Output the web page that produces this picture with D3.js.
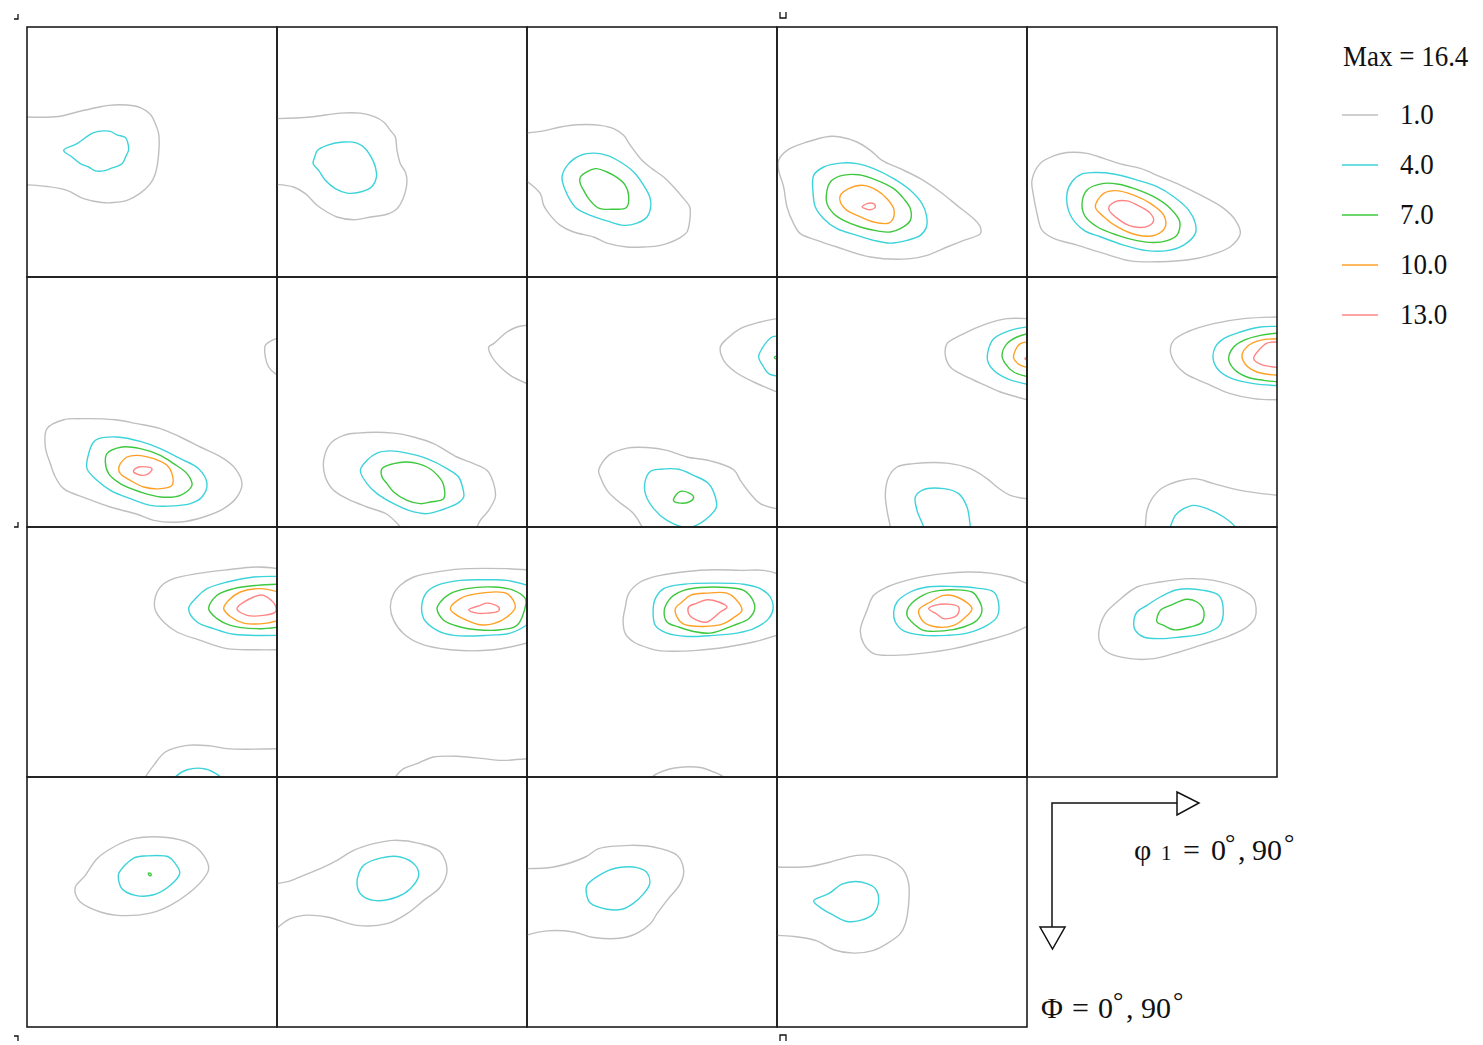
<!DOCTYPE html>
<html>
<head>
<meta charset="utf-8">
<script src="https://cdn.jsdelivr.net/npm/d3@7"></script>
<style>
  body { margin: 0; background: #fff; }
  svg { display: block; }
  text { font-family: "Liberation Serif", "Times New Roman", serif; fill: #111; }
</style>
</head>
<body>
<svg id="chart" width="1483" height="1045"></svg>
<script>
// ODF constant-phi2 sections; contour levels and peak density
const levels = [1.0, 4.0, 7.0, 10.0, 13.0];
const maxDensity = 16.4;
const phi2Sections = [0, 5, 10, 15, 20, 25, 30, 35, 40, 45, 50, 55, 60, 65, 70, 75, 80, 85, 90];

// Each ring: [level index, closed (1) or cut by the section edge (0), [phi1, Phi, phi1, Phi, ...]] in degrees
const sec00 = [
  [0, 0, [-0.5,32.4, 11.4,32.2, 18,30.6, 25.2,29, 29.4,28.2, 36,28.1, 40.8,29, 44.4,31.4, 46.2,34.8, 47.4,38.4, 47.4,45.6, 46.2,52.8, 44.4,56.4, 40.8,59.8, 36,62.4, 31.2,63.2, 27,63.2, 20.4,61.8, 14.4,58.8, 7.2,57.4, -0.5,56.8]],
  [1, 1, [13.2,44.4, 18,42, 22.2,39, 24,38, 27.6,37.4, 30,37.6, 32.4,38.8, 35.4,39.8, 36.2,41.4, 36.6,44.2, 35.4,47, 34.2,49.2, 30,51, 27.6,51.8, 24.6,51.8, 22.2,50.4, 19.2,49.2, 16.2,46.8]]
];
const sec05 = [
  [0, 0, [-0.5,33, 12,32.4, 22.8,31, 30,31, 34.8,32.2, 38.4,34.2, 40.8,37.2, 42.6,39.6, 43.2,44.4, 44.4,49.2, 46.2,52.2, 46.8,55.2, 45.6,61.2, 43.2,65.4, 39.6,67.4, 33.6,68.4, 27.6,69.4, 21.6,68.4, 18,66.6, 14.4,64.2, 10.2,60, 6,57.6, -0.5,56.6]],
  [1, 1, [14.4,44.6, 18,42.6, 24,41.4, 28.8,41.8, 31.8,43.8, 34.2,47.4, 35.4,50.4, 35.8,54, 34.2,57.4, 30,59.4, 25.2,59.8, 21,58.2, 17.4,55.2, 15,51.6, 13,49.2, 13.8,46.2]]
];
const sec10 = [
  [0, 0, [-0.5,38.2, 6,37.4, 12,36, 18,35.2, 26.4,35.4, 31.2,36.6, 34.8,39, 37.2,42.6, 41.4,48, 45,51, 49.2,54, 52.8,57.6, 56.4,61.8, 58.6,64.8, 58.6,69.6, 57.6,73.8, 55.2,75.8, 48,78.6, 42,79.2, 36,79.2, 28.8,77.8, 24,75.6, 16.8,73.8, 12,71.4, 8.4,67.8, 6,64.2, 4.8,60, -0.5,55.2]],
  [1, 1, [12.6,54, 15,49.2, 19.2,46.2, 24,45.4, 28.8,46.2, 33.6,48.6, 38.4,52.2, 42,57, 44.2,61.2, 44.6,64.2, 43.2,68.4, 39.6,70.6, 34.8,71.4, 28.8,69.8, 22.8,67.8, 18,65.4, 15.6,62.4, 13.8,58.8]],
  [2, 1, [19.2,54, 24.6,51, 28.8,52.2, 33,54.6, 35.4,57, 36.6,60.6, 35.8,65, 31.2,65.6, 25.8,65.2, 22.2,61.8, 20.4,58.8, 19.2,56.4]]
];
const sec15 = [
  [0, 1, [0.6,48, 3.6,44.4, 10.8,41.4, 18.6,39.4, 22.8,39.6, 28.8,41.4, 33.6,44.4, 37.8,48, 44.4,51, 51.6,54.6, 58.8,59.4, 64.8,64.2, 71.4,69.6, 73.2,72, 73.2,74.4, 67.2,76.8, 61.2,79.2, 54,82.2, 48,83.4, 33.6,82.8, 21.6,79.2, 14.4,76.8, 8.4,74.4, 6,70.8, 3.6,64.8, 2.4,57.6, 0.6,51.6]],
  [1, 1, [13.2,53.4, 16.8,50.4, 22.8,49, 28.8,49.2, 34.8,51, 42,54.6, 48,58.8, 52.2,63.6, 53.8,67.8, 53.8,72, 51.6,75, 46.8,76.8, 40.8,77.8, 34.8,76.8, 28.8,75, 21.6,72.6, 16.8,69, 13.8,64.8, 13,60]],
  [2, 1, [19.2,55.8, 22.8,53.6, 29.4,53.2, 36,55.2, 42,58.2, 45.6,61.8, 48,65.4, 48,69.6, 44.4,72.6, 40.8,73.8, 36,73.4, 30,72, 24,69.6, 20.4,67.2, 18,63.6, 18,58.8]],
  [3, 1, [22.8,60.6, 25.8,58.2, 31.2,57, 36,58.8, 39.6,61.8, 42,65.4, 41.8,69, 40.2,70.6, 34.8,70.2, 28.8,67.8, 25.2,66, 22.8,63]],
  [4, 1, [30.6,64.8, 32.4,63.6, 34.8,63.6, 35.4,64.8, 33.6,65.8, 31.8,65.4]]
];
const sec20 = [
  [0, 1, [1.8,55.1, 4.8,49.1, 9.6,46.4, 14.4,45.2, 21.6,45.5, 27.6,47.3, 33.6,49.3, 40.8,50.9, 48,53.9, 55.2,56.9, 63.6,61.1, 70.8,65.3, 75,69.5, 76.8,74.3, 73.2,79.1, 66,82.1, 57.6,83.9, 48,84.5, 37.2,84.2, 27.6,81.5, 18,78.5, 9.6,76.1, 5.4,73.1, 3.6,67.1, 2.4,61.1]],
  [1, 1, [14.4,59.9, 16.2,55.7, 19.8,52.9, 24,52.4, 31.2,52.9, 39.6,55.1, 46.8,57.5, 52.8,61.1, 58.2,65.9, 60.6,70.7, 60.6,74.3, 56.4,78.5, 50.4,80.5, 43.2,80.5, 34.8,78.5, 26.4,75.5, 20.4,73.1, 15.6,67.7]],
  [2, 1, [19.8,64.1, 21.6,58.7, 27.6,56.3, 33,56.6, 38.4,58.1, 45.6,61.1, 51.6,65.3, 55,70.1, 54,74.9, 50.4,76.9, 45.6,77.6, 39.6,76.9, 32.4,74.9, 25.2,71.9, 21,68.3]],
  [3, 1, [24.6,64.7, 27.6,59.9, 31.8,58.9, 38.4,60.5, 44.4,63.5, 49.2,67.7, 49.8,71.9, 46.2,74.9, 39.6,74.9, 32.4,71.9, 27.6,68.3]],
  [4, 1, [29.4,65.3, 31.8,62.9, 36,62.6, 40.8,64.7, 44.4,67.1, 45.6,69.5, 43.8,71.6, 38.4,71.9, 33.6,69.7]]
];
const sec25 = [
  [0, 0, [90.5,22, 88.2,22.8, 85.8,24.6, 85.8,28.8, 87,32.4, 89.4,34.8, 90.5,35.2]],
  [0, 1, [7.2,54.6, 13.2,51.4, 19.2,51, 31.8,51.4, 39.6,52.8, 48,54.6, 55.2,57.6, 62.4,61.2, 70.8,65.4, 75,69, 77.4,74.4, 75.6,79.2, 70.8,83.4, 63.6,86.4, 55.2,88.2, 45.6,87.6, 39.6,85.4, 30,82.8, 21.6,79.8, 13.2,76.2, 10.2,72, 8.4,67.2, 6.6,61.2]],
  [1, 1, [24,59.4, 25.8,58.2, 32.4,57.6, 40.8,59.2, 48,61.8, 55.2,65.4, 61.8,69, 64.8,74.4, 63,79.2, 58.8,81.6, 52.8,82.4, 44.4,82.2, 37.2,79.8, 30,76.8, 25.2,73.2, 21.6,69, 22.2,63.6]],
  [2, 1, [28.8,63.6, 34.2,61.2, 40.8,61.8, 48,64.2, 52.8,67.2, 57.6,70.8, 59.4,75, 55.2,78.6, 48,79.2, 40.8,77.4, 33.6,74.4, 29.4,70.8, 28.2,66.6]],
  [3, 1, [33.6,67.2, 36,64.8, 39.6,64.2, 45.6,65.4, 50.4,67.8, 52.2,70.8, 52.2,75, 48,76.2, 42,75.6, 37.2,73.2, 33.6,70.8, 33,69]],
  [4, 1, [38.4,69.6, 40.2,68.4, 45,69, 43.8,70.8, 41.4,71.4, 38.4,70.2]]
];
const sec30 = [
  [0, 0, [90.5,17.3, 86.4,18, 82.8,19.8, 78,24, 76.2,25.2, 77.4,28.8, 80.4,32.4, 84,35.4, 90.5,38.6]],
  [0, 0, [46,92, 44.4,90, 39.6,85.4, 32.4,82.8, 25.2,79.8, 20.4,76.8, 17.4,72, 16.8,66, 19.2,60, 24,57, 28.8,56.2, 42,56.2, 49.2,57.6, 56.4,60, 64.8,64.8, 70.8,67.2, 75.6,69.6, 78,74.4, 78.6,79.2, 76.2,84, 73.2,87.6, 72,90, 71.4,92]],
  [1, 1, [32.4,66, 36,63.4, 40.8,62.6, 46.8,63.4, 54,65.4, 61.2,69, 65.4,72, 66.6,75, 67.2,79.2, 64.8,81.6, 58.8,84, 54,85.2, 48,84.2, 42,81.6, 36,78, 32.4,74.4, 30,69.6]],
  [2, 1, [37.8,69, 42,67.2, 46.8,66.6, 54,68.4, 58.8,72.6, 60,75, 60,79.8, 55.2,81, 51.6,81.6, 46.8,80.4, 42,77.4, 39.6,74.4, 37.8,72]]
];
const sec35 = [
  [0, 0, [90.5,14.9, 84,16.2, 76.8,18.6, 72,22.2, 69.6,25.2, 70.8,30, 75,34.2, 81.6,37.8, 90.5,41.6]],
  [1, 0, [90.5,21.3, 88.2,21.6, 84.6,25.8, 83.4,28.8, 85.2,32.4, 87,34.8, 90.5,35.7]],
  [2, 0, [90.5,28.2, 89,29, 90.5,29.9]],
  [0, 0, [42,92, 41.4,90, 38.4,85.2, 32.4,80.4, 28.8,76.8, 26.4,72, 25.8,69.6, 29.4,64.2, 36,61.6, 43.2,61.4, 50.4,62.4, 57.6,64.8, 66,66.2, 74.4,69.4, 76.8,73.2, 80.4,78, 84,81.6, 90.5,83.5]],
  [1, 1, [57.6,90.2, 50.4,87.6, 45.6,83.4, 42.6,78, 42.6,73.2, 44.4,70, 48,69.2, 54.6,69.2, 60,71.4, 65.4,74.4, 67.8,79.2, 68.2,82.8, 65.4,86.4, 60,89.8]],
  [2, 1, [52.8,79.8, 55.2,77.2, 58.8,78, 60,79.2, 58.8,80.8, 55.2,81.4, 52.8,80.6]]
];
const sec40 = [
  [0, 0, [90.5,15, 82.8,15, 75.6,16.8, 66,21, 61.2,24, 60.6,28.2, 62.4,32.4, 66,34.8, 73.2,38.2, 80.4,41.4, 86.4,43.2, 90.5,44.3]],
  [1, 0, [90.5,17.9, 84,19.2, 78,22.2, 76.2,25.8, 75.8,30, 78,33.6, 82.8,36.6, 90.5,38.7]],
  [2, 0, [90.5,20.3, 86.4,21.6, 82.8,24, 81,28.2, 82.2,31.2, 85.2,34.2, 90.5,35.9]],
  [3, 0, [90.5,23.3, 87.6,24, 85.8,26.4, 85.2,29.2, 87,31.4, 90.5,32.7]],
  [4, 0, [90.5,28.6, 89.2,29.4, 90.5,30.2]],
  [0, 0, [41,92, 40.8,90, 39.6,84, 39,78, 40.2,72, 43.2,68.4, 49.2,67.2, 61.2,67, 69.6,69, 75.6,72.6, 79.2,75.6, 84,78.6, 90.5,79.9]],
  [1, 0, [53.2,92, 52.8,90, 50.4,84, 49.8,79.2, 52.2,76.8, 60,76.2, 65.4,78, 68.4,82.8, 69.6,90, 69.8,92]]
];
const sec45 = [
  [0, 0, [90.5,14.4, 78,15, 67.2,16.8, 57.6,19.8, 52.8,22.8, 51.6,26.4, 53.4,31.2, 57,34.8, 64.8,38.4, 73.2,42, 81.6,43.8, 90.5,44.2]],
  [1, 0, [90.5,17.8, 84,18, 76.8,19.8, 70.8,22.2, 67.8,25.2, 67,29.4, 69,33.6, 73.8,36.6, 81.6,38.4, 90.5,39.1]],
  [2, 0, [90.5,20.2, 84,21, 78,22.8, 74.4,25.2, 72.6,29.4, 74.4,33, 79.2,36, 85.2,37.2, 90.5,37.8]],
  [3, 0, [90.5,22.2, 84,22.8, 79.8,24.6, 77.4,28.2, 78.6,31.4, 82.8,34.2, 90.5,35.4]],
  [4, 0, [90.5,23.4, 86.4,23.8, 83.4,26.4, 81.6,29.4, 84,31.4, 90.5,32.6]],
  [0, 0, [42.4,92, 42.6,90, 43.2,84, 45,79.8, 49.2,75.6, 60,72.6, 67.2,74.4, 76.8,76.8, 90.5,78.6]],
  [1, 0, [51,92, 51.6,90, 53.4,85.8, 56.4,83.4, 60,82.2, 64.8,83.4, 70.8,86.4, 75,90, 76,92]]
];
const sec50 = [
  [0, 0, [90.5,15, 82.8,14.4, 72,15.4, 61.2,16.8, 52.8,18.6, 48.6,21, 46.2,25.2, 46.2,30, 49.2,34.2, 54,37.8, 62.4,40.8, 72,43.8, 82.8,44.2, 90.5,44.2]],
  [1, 0, [90.5,17.8, 81.6,18, 72,19.8, 64.8,22.2, 61.2,25.2, 58.2,29.4, 61.2,34.2, 67.2,36.6, 74.4,38.6, 90.5,39]],
  [2, 0, [90.5,20.6, 82.8,21, 74.4,22.2, 68.4,24.6, 65.4,29.4, 68.4,33, 73.2,35.4, 82.8,36.6, 90.5,36]],
  [3, 0, [90.5,23.4, 84,22.2, 76.8,23.4, 72.6,26.4, 70.8,29.4, 73.2,32.2, 78,34.6, 86.4,34.6, 90.5,33.6]],
  [4, 1, [89.4,28.2, 85.2,24.6, 81.6,25.2, 75.6,29.4, 79.2,31.8, 85.2,31.8, 89.4,30.6]],
  [0, 0, [41.6,92, 42.6,90, 45.6,85.8, 49.8,81, 57.6,78.6, 66,78.8, 72,79.8, 90.5,79.8]],
  [1, 0, [52,92, 53.4,90, 57.6,87.4, 64.2,87.1, 69,89.4, 69.6,90, 70.4,92]]
];
const sec55 = [
  [0, 0, [90.5,15.4, 82.8,15, 68.4,15, 60,15.8, 49.2,18, 44.4,21, 42,24, 40.8,28.8, 42,33.6, 45.6,38.4, 51.6,42, 62.4,44.2, 78,44.2, 90.5,41.6]],
  [1, 0, [90.5,21.1, 82.8,19.2, 75.6,19, 66,19.2, 57.6,21, 54,23.4, 52.2,27.6, 52.8,33, 57.6,37.2, 63.6,39, 75.6,39, 84,38.2, 88.8,36, 90.5,34.6]],
  [2, 1, [89.4,25.8, 85.2,22.8, 78,21.6, 68.4,22.2, 62.4,24, 58.8,27, 57.6,29.4, 60,33.6, 66,36, 72,37, 80.4,37, 86.4,35.4, 89.6,27.6]],
  [3, 1, [62.4,29.4, 66,25.8, 72,24, 82.8,24, 85.8,28.8, 82.8,32.4, 78,34.8, 73.2,35.2, 68.4,33.6, 64.8,31.8]],
  [4, 1, [69,29.8, 73.2,28.2, 75.6,27.4, 79.8,28.8, 79.8,30.2, 75.6,31, 72,31]],
  [0, 0, [41.4,92, 42.6,90, 45.6,87, 50.4,85.2, 56.4,82.8, 66,82.6, 74.4,83.4, 80.4,84, 90.5,83.4]]
];
const sec60 = [
  [0, 0, [90.5,16.9, 85.2,15.6, 76.8,15.6, 67.2,15.4, 57.6,16, 48,17.4, 40.8,19.8, 36.6,24, 35.4,28.8, 34.6,33.6, 35.4,38.4, 38.4,41.4, 44.4,43.8, 48,44.6, 61.2,44.4, 72,43.2, 81.6,41.4, 90.5,38.8]],
  [1, 1, [49.2,22.2, 56.4,20.6, 67.2,20.2, 78,20.6, 84,22.2, 87.6,25.2, 88.6,29.4, 87,33, 81.6,36.6, 75.6,38.2, 67.2,39, 57.6,39.4, 50.4,38.2, 46.2,35.4, 45.4,30, 46.2,25.8]],
  [2, 1, [52.8,24.6, 56.4,22.8, 62.4,21.8, 72,21.8, 78,22.8, 81,25.8, 82,29.4, 79.8,33, 74.4,35.4, 66,38.2, 60,37.6, 54.6,36, 50.4,34.2, 49.4,30, 51,26.4]],
  [3, 1, [55.8,27, 58.8,24.6, 64.8,23.8, 72,23.8, 75,25.8, 77.4,30, 74.4,32.6, 70.8,34.8, 63.6,35.8, 56.4,35, 54,32.4, 53.4,29.4]],
  [4, 1, [58.2,28.8, 61.2,27.4, 64.8,26.2, 69,27, 72,28.8, 69.6,30.6, 64.8,34.2, 60,33, 58.2,31.2]],
  [0, 0, [43.5,92, 45,90, 50.4,87.4, 56.4,86.4, 62.4,86.6, 67.2,88.2, 70.8,90, 72.4,92]]
];
const sec65 = [
  [0, 0, [90.5,20.6, 84,18, 76.8,16.6, 68.4,16.2, 60,16.8, 49.2,18.6, 39.6,21.6, 34.8,24.6, 32.4,30, 30,37.2, 31.2,42, 34.8,45.6, 42,46.2, 52.8,45.4, 63.6,43.8, 75.6,40.8, 84,38.4, 90.5,35.6]],
  [1, 1, [43.2,27, 48,23.4, 54,21.6, 63.6,21.4, 72,22, 78,23.4, 79.8,27.6, 79.2,32.4, 75.6,35.4, 68.4,38.2, 61.2,39, 52.8,39, 45.6,37.4, 42.6,34.2, 42,30.6]],
  [2, 1, [47.4,28.8, 52.8,24.4, 58.8,22.8, 70.2,23.4, 72,25.2, 73.8,30, 72,33.6, 67.2,36, 60,37.4, 52.8,37.2, 49.2,34.8, 46.8,31.8]],
  [3, 1, [51,30, 55.2,27, 60,24.6, 64.8,25.2, 70.2,29.4, 67.2,33, 63.6,35.4, 57.6,36, 52.8,34.2]],
  [4, 1, [54.6,29.4, 58.8,27.8, 65.4,28.8, 64.8,31.8, 60,33, 57.6,31.4]]
];
const sec70 = [
  [0, 1, [25.8,38.4, 28.2,31.2, 32.4,27, 39.6,21.6, 48,19.8, 58.8,18.6, 67.2,19.2, 76.8,22.2, 81.6,25.8, 82.2,32.4, 79.2,36, 73.2,39, 62.4,42.6, 52.8,45.6, 45.6,47.4, 37.2,47.4, 28.8,45, 26.4,42]],
  [1, 1, [38.4,34.8, 39.6,30.6, 43.2,28.2, 48,25.2, 54,22.6, 63.6,22.8, 69,24.6, 70.6,28.8, 69.4,35.4, 63.6,38.4, 55.2,39.6, 48,40.2, 42,39.6, 39,37.2]],
  [2, 1, [46.8,34.2, 48,30, 51.6,28.2, 57.6,26, 61.2,27, 63.6,30, 63,34.2, 58.8,36, 52.8,37, 49.2,35.4]]
];
const sec75 = [
  [0, 1, [17.4,39.6, 21,35.4, 25.2,29.4, 31.2,25.2, 38.4,22.2, 50.4,21.8, 58.8,24, 63.6,28.2, 65.4,33, 63.6,36.6, 58.8,41.4, 51.6,46.2, 44.4,49, 32.4,49.8, 26.4,48.6, 19.2,45, 17.4,42]],
  [1, 1, [33,34.8, 38.4,29.2, 43.2,28.4, 51,28.8, 53.4,31.2, 55,34.6, 51.6,39, 45.6,42.4, 39,42.6, 34.2,40.2, 33,37.2]],
  [2, 1, [43.7,34.6, 44.6,34.8, 44.6,35.5, 43.9,35.3]]
];
const sec80 = [
  [0, 0, [-0.5,38.4, 4.8,37.4, 9.6,35.4, 15.6,33, 21.6,30, 27.6,26.4, 34.8,24, 42,22.8, 51.6,24, 58.8,27, 61.2,33.6, 58.8,39.6, 52.8,44.4, 46.8,49.2, 39.6,52.8, 28.8,53.4, 18,50.4, 9.6,49.8, 4.8,51, -0.5,54.8]],
  [1, 1, [29.4,34.8, 31.2,31.8, 37.2,29.2, 44.4,28.8, 49.8,31.8, 51,35.4, 48,40.2, 43.2,43.2, 34.8,44.4, 30,42, 28.8,38.4]]
];
const sec85 = [
  [0, 0, [-0.5,33, 9.6,32.4, 21,28.8, 25.8,25.8, 37.2,24.6, 45.6,25.2, 54,28.2, 56.4,33.6, 55.2,38.4, 50.4,44.4, 46.8,49.2, 44.4,52.8, 36,57.6, 24,57.8, 16.8,55.8, 7.2,55.4, -0.5,57]],
  [1, 1, [21.6,39, 29.4,33.6, 34.8,32.4, 39.6,32.6, 43,34.2, 44.2,38.4, 42,42, 38.4,45.4, 34.2,47.6, 28.8,47.6, 22.8,45.4, 21.4,42]]
];
const sec90 = [
  [0, 0, [-0.5,32.4, 12,32.2, 19.2,30.6, 28.8,28.2, 36,28.4, 42,30.6, 45.6,33.6, 47.4,38.4, 47.4,45.6, 46.2,52.8, 44.4,56.4, 39.6,60, 34.8,62.4, 27.6,63.4, 20.4,62.2, 14.4,59, 6,57.4, -0.5,57]],
  [1, 1, [13.2,44.6, 18.6,42, 23.4,38.6, 28.2,37.6, 32.4,38.4, 35.4,40.2, 36.6,44.4, 34.8,49.2, 30,51.6, 25.2,52, 20.4,49.8, 16.2,47.4]]
];
const sections = [sec00, sec05, sec10, sec15, sec20, sec25, sec30, sec35, sec40, sec45,
                  sec50, sec55, sec60, sec65, sec70, sec75, sec80, sec85, sec90];

// Drawing styles
const levelColors = ["#bfbfbf", "#3dd3da", "#3ec83e", "#ffa126", "#ff8585"];
const panelSize = 250, cols = 5, rows = 4;

const svg = d3.select("#chart");

const colScale = d3.scaleBand().domain(d3.range(cols)).range([27, 27 + cols * panelSize]);
const rowScale = d3.scaleBand().domain(d3.range(rows)).range([27, 27 + rows * panelSize]);
const x = d3.scaleLinear().domain([0, 90]).range([0, panelSize]);
const y = d3.scaleLinear().domain([0, 90]).range([0, panelSize]);

const toPairs = flat => d3.range(0, flat.length, 2).map(i => [flat[i], flat[i + 1]]);
const openLine = d3.line().x(d => x(d[0])).y(d => y(d[1])).curve(d3.curveCatmullRom.alpha(0.5));
const closedLine = d3.line().x(d => x(d[0])).y(d => y(d[1])).curve(d3.curveCatmullRomClosed.alpha(0.5));

const defs = svg.append("defs");
defs.append("clipPath").attr("id", "sectionClip")
  .append("rect").attr("x", 0).attr("y", 0).attr("width", panelSize).attr("height", panelSize);

const panels = svg.selectAll("g.section")
  .data(phi2Sections.map((phi2, i) => ({ phi2, rings: sections[i], i })))
  .join("g")
  .attr("class", "section")
  .attr("transform", d => `translate(${colScale(d.i % cols)},${rowScale(Math.floor(d.i / cols))})`);

panels.append("g").attr("clip-path", "url(#sectionClip)")
  .selectAll("path")
  .data(d => d.rings)
  .join("path")
  .attr("d", r => (r[1] ? closedLine : openLine)(toPairs(r[2])))
  .attr("fill", "none")
  .attr("stroke", r => levelColors[r[0]])
  .attr("stroke-width", 1.4)
  .attr("stroke-linejoin", "round");

panels.append("rect")
  .attr("width", panelSize).attr("height", panelSize)
  .attr("fill", "none").attr("stroke", "#1c1c1c").attr("stroke-width", 1.6);

// Text helper: serif glyphs, optionally condensed horizontally
function label(parent, px, py, size, pieces, sx = 1) {
  const g = parent.append("g").attr("transform", `translate(${px},${py}) scale(${sx},1)`);
  const t = g.append("text").attr("x", 0).attr("y", 0).attr("font-size", size);
  pieces.forEach(p => {
    const s = t.append("tspan").text(p.t);
    if (p.x != null) s.attr("x", p.x / sx);
    if (p.y != null) s.attr("y", p.y);
    if (p.size) s.attr("font-size", p.size);
  });
  return t;
}

// Legend
const legend = svg.append("g").attr("transform", "translate(1342,0)");
label(legend, 1, 66, 30, [{ t: `Max = ${maxDensity.toFixed(1)}` }], 0.9);
const legendRow = d3.scaleLinear().domain([0, levels.length - 1]).range([115, 315]);
const items = legend.selectAll("g.item").data(levels).join("g").attr("class", "item")
  .attr("transform", (d, i) => `translate(0,${legendRow(i)})`);
items.append("line").attr("x1", 0).attr("x2", 36).attr("y1", 0).attr("y2", 0)
  .attr("stroke", (d, i) => levelColors[i]).attr("stroke-width", 1.5);
items.each(function (d) { label(d3.select(this), 58, 9, 30, [{ t: d.toFixed(1) }], 0.9); });

// Axis direction key
const key = svg.append("g");
key.append("path").attr("d", "M1052,947 V803 H1177")
  .attr("fill", "none").attr("stroke", "#111").attr("stroke-width", 1.5);
key.append("path").attr("d", "M1177,792 L1199,803 L1177,815 Z")
  .attr("fill", "#fff").attr("stroke", "#111").attr("stroke-width", 1.5);
key.append("path").attr("d", "M1040,927 L1065,927 L1052.5,949 Z")
  .attr("fill", "#fff").attr("stroke", "#111").attr("stroke-width", 1.5);

label(key, 1134, 860, 30, [
  { t: "φ", x: 0 },
  { t: "1", x: 27, size: 21 },
  { t: "=", x: 49 },
  { t: "0", x: 77 },
  { t: "°", x: 91, y: -9, size: 26 },
  { t: ",", x: 104, y: 0 },
  { t: "90", x: 118 },
  { t: "°", x: 150, y: -9, size: 26 }
]);
label(key, 1041, 1018, 30, [
  { t: "Φ", x: 0 },
  { t: "=", x: 31 },
  { t: "0", x: 57 },
  { t: "°", x: 72, y: -9, size: 26 },
  { t: ",", x: 85, y: 0 },
  { t: "90", x: 100 },
  { t: "°", x: 132, y: -9, size: 26 }
]);

// Small registration marks around the sheet
const marks = [
  "M14,19 H18 V14",
  "M780,12 V18 H786 V12",
  "M14,527 H18 V522",
  "M14,1036 H18 V1041",
  "M780,1041 V1035 H786 V1041"
];
svg.append("g").selectAll("path").data(marks).join("path")
  .attr("d", d => d).attr("fill", "none").attr("stroke", "#111").attr("stroke-width", 1.3);
</script>
</body>
</html>
